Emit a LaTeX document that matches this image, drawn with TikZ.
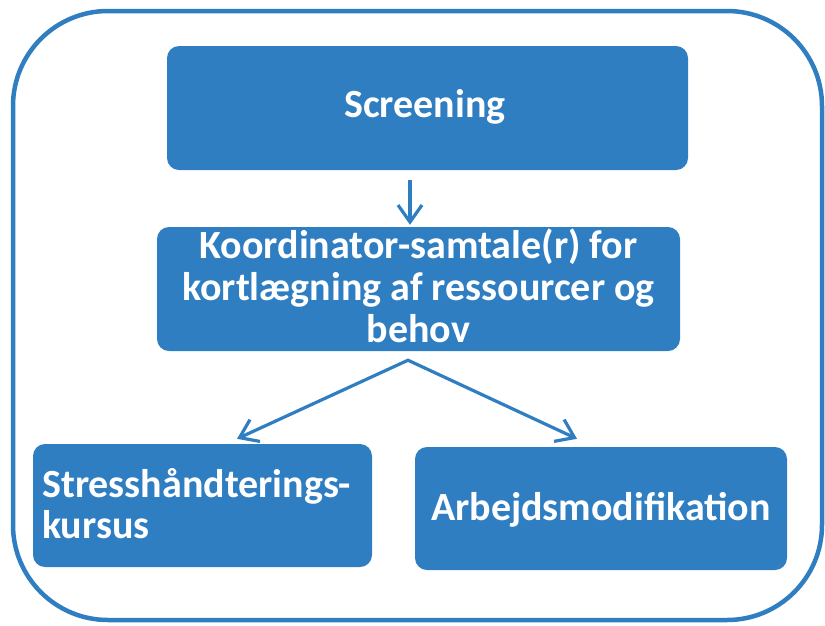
\documentclass[tikz,border=0pt]{standalone}
\usepackage{fontspec}
\setmainfont{Carlito}
\usetikzlibrary{arrows.meta}
\definecolor{boxblue}{RGB}{47,126,193}
\tikzset{
  bluebox/.style={fill=boxblue, rounded corners=12pt, inner sep=0pt, anchor=center},
  boxtext/.style={text=white, font=\bfseries\fontsize{40}{44}\selectfont, inner sep=0pt},
  arr/.style={draw=boxblue, line width=3.2pt},
  barb/.tip={Straight Barb[length=17pt, width=24pt]}
}
\begin{document}
\begin{tikzpicture}[x=1pt, y=-1pt]
\useasboundingbox (0,0) rectangle (825,625);
\draw[boxblue, line width=4.5pt, rounded corners=95pt] (13,11) rectangle (822,620);
\node[bluebox, minimum width=521pt, minimum height=124pt] (scr) at (427.5,108) {};
\node[boxtext, anchor=base] (scrtxt) at (425,117) {Screening};
\node[bluebox, minimum width=523pt, minimum height=124pt] (koo) at (418.5,289) {};
\node[boxtext, align=center, anchor=base, font=\bfseries\fontsize{40}{42}\selectfont] (kootxt) at (418.5,342)
  {Koordinator-samtale(r) for\\ kortlægning af ressourcer og\\ behov};
\node[bluebox, minimum width=339pt, minimum height=123pt] (str) at (202.5,505.5) {};
\node[boxtext, align=left, anchor=base west, font=\bfseries\fontsize{40}{41}\selectfont] (strtxt) at (42,538)
  {Stresshåndterings-\\kursus};
\node[bluebox, minimum width=372pt, minimum height=123pt] (arb) at (601,508.5) {};
\node[boxtext, anchor=base] (arbtxt) at (601,520) {Arbejdsmodifikation};
\draw[arr, -{barb}] ([xshift=-17.5pt, yshift=-10pt]scr.south) -- ([xshift=-8.5pt, yshift=2pt]koo.north);
\coordinate (apex) at ([xshift=-10.5pt, yshift=-9pt]koo.south);
\draw[arr, {barb}-{barb}] ([xshift=34.5pt, yshift=5pt]str.north) -- (apex) -- ([xshift=-24pt, yshift=8pt]arb.north);
\end{tikzpicture}
\end{document}
